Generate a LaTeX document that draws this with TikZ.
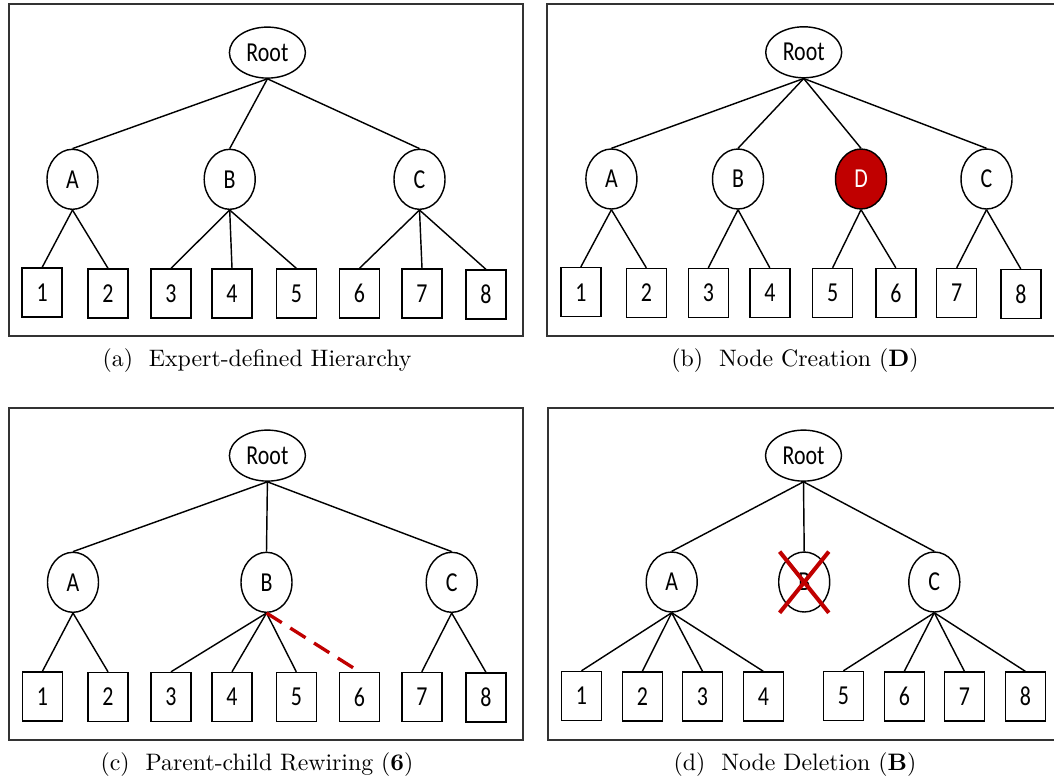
\documentclass[tikz,border=0pt]{standalone}
\usepackage{fontspec}
\usepackage{graphicx}
\newfontfamily\carlito{Carlito}
\usetikzlibrary{shapes.geometric}
\definecolor{deepred}{HTML}{C00000}
\newcommand\stretchtxt[1]{\scalebox{1}[1.25]{#1}}

\begin{document}
\begin{tikzpicture}[x=0.42pt,y=-0.42pt,
  frame/.style={draw=black!80, line width=0.85pt},
  treenode/.style={draw, line width=0.6pt, inner sep=0pt,
    font=\carlito\fontsize{9.2}{9.2}\selectfont},
  rootnode/.style={treenode, ellipse, minimum width=76*0.42pt, minimum height=51*0.42pt},
  midnode/.style={treenode, ellipse, minimum width=51*0.42pt, minimum height=60*0.42pt},
  leafnode/.style={treenode, rectangle, minimum width=40*0.42pt, minimum height=49*0.42pt},
  newnode/.style={midnode, fill=deepred, text=white},
  link/.style={line width=0.6pt},
  rewire/.style={draw=deepred, line width=1.4pt, dash pattern=on 7.6pt off 4.2pt},
  strike/.style={draw=deepred, line width=1.7pt},
  capt/.style={anchor=base, font=\fontsize{10}{12}\selectfont}
]
\useasboundingbox (0,0) rectangle (1054,778);

% ---------- frames ----------
\draw[frame] (9,4) rectangle (523,336);
\draw[frame] (547,4) rectangle (1070,336);
\draw[frame] (9,408) rectangle (523,740);
\draw[frame] (548,408) rectangle (1070,740);

% ---------- (a) expert-defined hierarchy ----------
\node[rootnode] (aR) at (267.4,52.6) {\stretchtxt{Root}};
\node[midnode] (aA) at (72.5,179.3) {\stretchtxt{A}};
\node[midnode] (aB) at (229.7,179.3) {\stretchtxt{B}};
\node[midnode] (aC) at (419.5,179.3) {\stretchtxt{C}};
\node[leafnode] (a1) at (42.1,292.7) {\stretchtxt{1}};
\node[leafnode] (a2) at (108,293.5) {\stretchtxt{2}};
\node[leafnode] (a3) at (171,293.5) {\stretchtxt{3}};
\node[leafnode] (a4) at (232,293.5) {\stretchtxt{4}};
\node[leafnode] (a5) at (296.3,293.5) {\stretchtxt{5}};
\node[leafnode] (a6) at (359.5,293.5) {\stretchtxt{6}};
\node[leafnode] (a7) at (422,293.5) {\stretchtxt{7}};
\node[leafnode] (a8) at (486,294.6) {\stretchtxt{8}};
\foreach \c in {aA,aB,aC} \draw[link] (aR.south) -- (\c.north);
\foreach \c in {a1,a2} \draw[link] (aA.south) -- (\c.north);
\foreach \c in {a3,a4,a5} \draw[link] (aB.south) -- (\c.north);
\foreach \c in {a6,a7,a8} \draw[link] (aC.south) -- (\c.north);
\node[capt] (acap) at (257,366) {(a)~ Expert-defined Hierarchy};

% ---------- (b) node creation ----------
\node[rootnode] (bR) at (803.7,52.3) {\stretchtxt{Root}};
\node[midnode] (bA) at (611.4,179) {\stretchtxt{A}};
\node[midnode] (bB) at (738,179) {\stretchtxt{B}};
\node[newnode] (bD) at (861,179) {\stretchtxt{D}};
\node[midnode] (bC) at (986.5,179) {\stretchtxt{C}};
\node[leafnode] (b1) at (580.8,292.2) {\stretchtxt{1}};
\node[leafnode] (b2) at (646.3,293) {\stretchtxt{2}};
\node[leafnode] (b3) at (708.3,293) {\stretchtxt{3}};
\node[leafnode] (b4) at (769.8,293) {\stretchtxt{4}};
\node[leafnode] (b5) at (832.6,293) {\stretchtxt{5}};
\node[leafnode] (b6) at (895.8,293) {\stretchtxt{6}};
\node[leafnode] (b7) at (956.7,293) {\stretchtxt{7}};
\node[leafnode] (b8) at (1020.8,294.2) {\stretchtxt{8}};
\foreach \c in {bA,bB,bD,bC} \draw[link] (bR.south) -- (\c.north);
\foreach \c in {b1,b2} \draw[link] (bA.south) -- (\c.north);
\foreach \c in {b3,b4} \draw[link] (bB.south) -- (\c.north);
\foreach \c in {b5,b6} \draw[link] (bD.south) -- (\c.north);
\foreach \c in {b7,b8} \draw[link] (bC.south) -- (\c.north);
\node[capt] (bcap) at (795,366) {(b)~ Node Creation (\textbf{D})};

% ---------- (c) parent-child rewiring ----------
\node[rootnode] (cR) at (267.4,455.6) {\stretchtxt{Root}};
\node[midnode] (cA) at (73,582.3) {\stretchtxt{A}};
\node[midnode] (cB) at (266.5,582.3) {\stretchtxt{B}};
\node[midnode] (cC) at (451.7,582.3) {\stretchtxt{C}};
\node[leafnode] (c1) at (42.4,696.5) {\stretchtxt{1}};
\node[leafnode] (c2) at (108,697) {\stretchtxt{2}};
\node[leafnode] (c3) at (171,697) {\stretchtxt{3}};
\node[leafnode] (c4) at (232,697) {\stretchtxt{4}};
\node[leafnode] (c5) at (296.3,697) {\stretchtxt{5}};
\node[leafnode] (c6) at (359.5,697) {\stretchtxt{6}};
\node[leafnode] (c7) at (421.8,697) {\stretchtxt{7}};
\node[leafnode] (c8) at (486,697.6) {\stretchtxt{8}};
\foreach \c in {cA,cB,cC} \draw[link] (cR.south) -- (\c.north);
\foreach \c in {c1,c2} \draw[link] (cA.south) -- (\c.north);
\foreach \c in {c3,c4,c5} \draw[link] (cB.south) -- (\c.north);
\foreach \c in {c7,c8} \draw[link] (cC.south) -- (\c.north);
\draw[rewire] (cB.south) -- (c6.north);
\node[capt] (ccap) at (257,770) {(c)~ Parent-child Rewiring (\textbf{6})};

% ---------- (d) node deletion ----------
\node[rootnode] (dR) at (803.5,455.6) {\stretchtxt{Root}};
\node[midnode] (dA) at (671.7,582) {\stretchtxt{A}};
\node[midnode] (dB) at (804.2,582) {\stretchtxt{B}};
\node[midnode] (dC) at (934.3,582) {\stretchtxt{C}};
\node[leafnode] (d1) at (581.5,696) {\stretchtxt{1}};
\node[leafnode] (d2) at (642.3,696.5) {\stretchtxt{2}};
\node[leafnode] (d3) at (702.5,696.5) {\stretchtxt{3}};
\node[leafnode] (d4) at (763.3,696.5) {\stretchtxt{4}};
\node[leafnode] (d5) at (843.4,696) {\stretchtxt{5}};
\node[leafnode] (d6) at (904.3,696.5) {\stretchtxt{6}};
\node[leafnode] (d7) at (964.4,696.5) {\stretchtxt{7}};
\node[leafnode] (d8) at (1025.3,696.5) {\stretchtxt{8}};
\foreach \c in {dA,dB,dC} \draw[link] (dR.south) -- (\c.north);
\foreach \c in {d1,d2,d3,d4} \draw[link] (dA.south) -- (\c.north);
\foreach \c in {d5,d6,d7,d8} \draw[link] (dC.south) -- (\c.north);
% deletion mark over B
\draw[strike] (dB) ++(-24.6,-30.4) -- ++(49.2,61.2);
\draw[strike] (dB) ++(24.6,-30.4) -- ++(-49.2,61.2);
\node[capt] (dcap) at (795,770) {(d)~ Node Deletion (\textbf{B})};
\end{tikzpicture}
\end{document}
